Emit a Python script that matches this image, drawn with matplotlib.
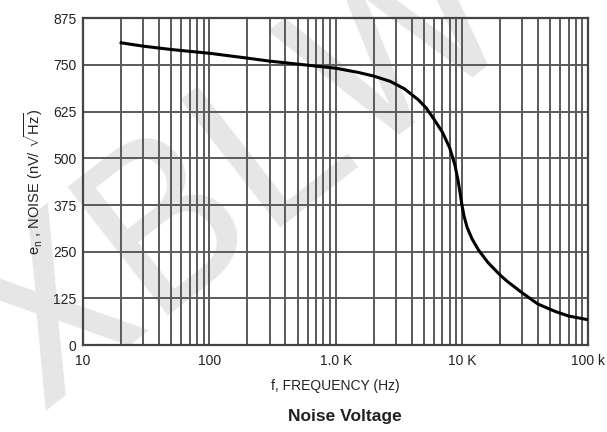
import numpy as np
import matplotlib
matplotlib.use("Agg")
from matplotlib import pyplot as plt
from matplotlib.ticker import FixedLocator, NullFormatter

plt.rcParams['font.family'] = ['Liberation Sans', 'DejaVu Sans']
plt.rcParams['mathtext.fontset'] = 'custom'
plt.rcParams['mathtext.rm'] = 'Liberation Sans'
plt.rcParams['mathtext.it'] = 'Liberation Sans'

# noise voltage vs frequency
freq = [20, 30, 50, 100, 200, 300, 500, 1000, 1500, 2000, 2700, 3500,
        4500, 5200, 6000, 7000, 8000, 8800, 9300, 9700, 10000, 10400,
        11000, 12000, 13500, 16000, 20000, 23000, 30000, 40000, 55000,
        70000, 100000]
noise = [809, 800, 791, 781, 768, 760, 752, 741, 730, 720, 706, 686,
         657, 635, 605, 570, 528, 482, 442, 405, 375, 345,
         315, 285, 255, 222, 188, 170, 140, 110, 90,
         78, 68]

yticks = [0, 125, 250, 375, 500, 625, 750, 875]
xticks = [10, 100, 1000, 10000, 100000]
xlabels = ['10', '100', '1.0 K', '10 K', '100 k']

fig = plt.figure(figsize=(6.07, 4.32), dpi=100)
ax = fig.add_axes([0.137, 0.201, 0.832, 0.757])

# light watermark, kept under the grid and labels
ax.text(0.40, 0.60, 'XBLW', transform=fig.transFigure, fontsize=165,
        color='#e6e6e6', rotation=38, ha='center', va='center',
        family=['Roboto', 'DejaVu Sans'], fontweight='normal',
        zorder=0.2, clip_on=False)

ax.semilogx(freq, noise, color='black', lw=2.2, zorder=5)
ax.set_xlim(10, 100000)
ax.set_ylim(0, 875)

minor = [m * 10 ** d for d in range(1, 5) for m in range(2, 10)]
ax.xaxis.set_major_locator(FixedLocator(xticks))
ax.xaxis.set_minor_locator(FixedLocator(minor))
ax.xaxis.set_minor_formatter(NullFormatter())
ax.set_xticklabels(xlabels)
ax.set_yticks(yticks)

ax.grid(True, which='both', axis='x', color='#5a5a5a', lw=1.4)
ax.grid(True, which='major', axis='y', color='#5a5a5a', lw=1.4)
ax.tick_params(which='both', length=0, labelsize=10, colors='#222222')
ax.tick_params(axis='x', pad=6)
ax.tick_params(axis='y', pad=5)
for s in ax.spines.values():
    s.set_color('#444444')
    s.set_linewidth(1.6)

ax.set_xlabel('f, FREQUENCY (Hz)', fontsize=10, labelpad=8, color='#222222')
ax.set_ylabel(r'$\mathregular{e_n}$ , NOISE (nV/ $\sqrt{\mathregular{Hz}}$)',
              fontsize=10.5, labelpad=6, color='#222222')
fig.text(0.568, 0.035, 'Noise Voltage', fontsize=12.5, fontweight='bold',
         ha='center', va='center', color='#222222')

fig.savefig('out.png', dpi=100)
